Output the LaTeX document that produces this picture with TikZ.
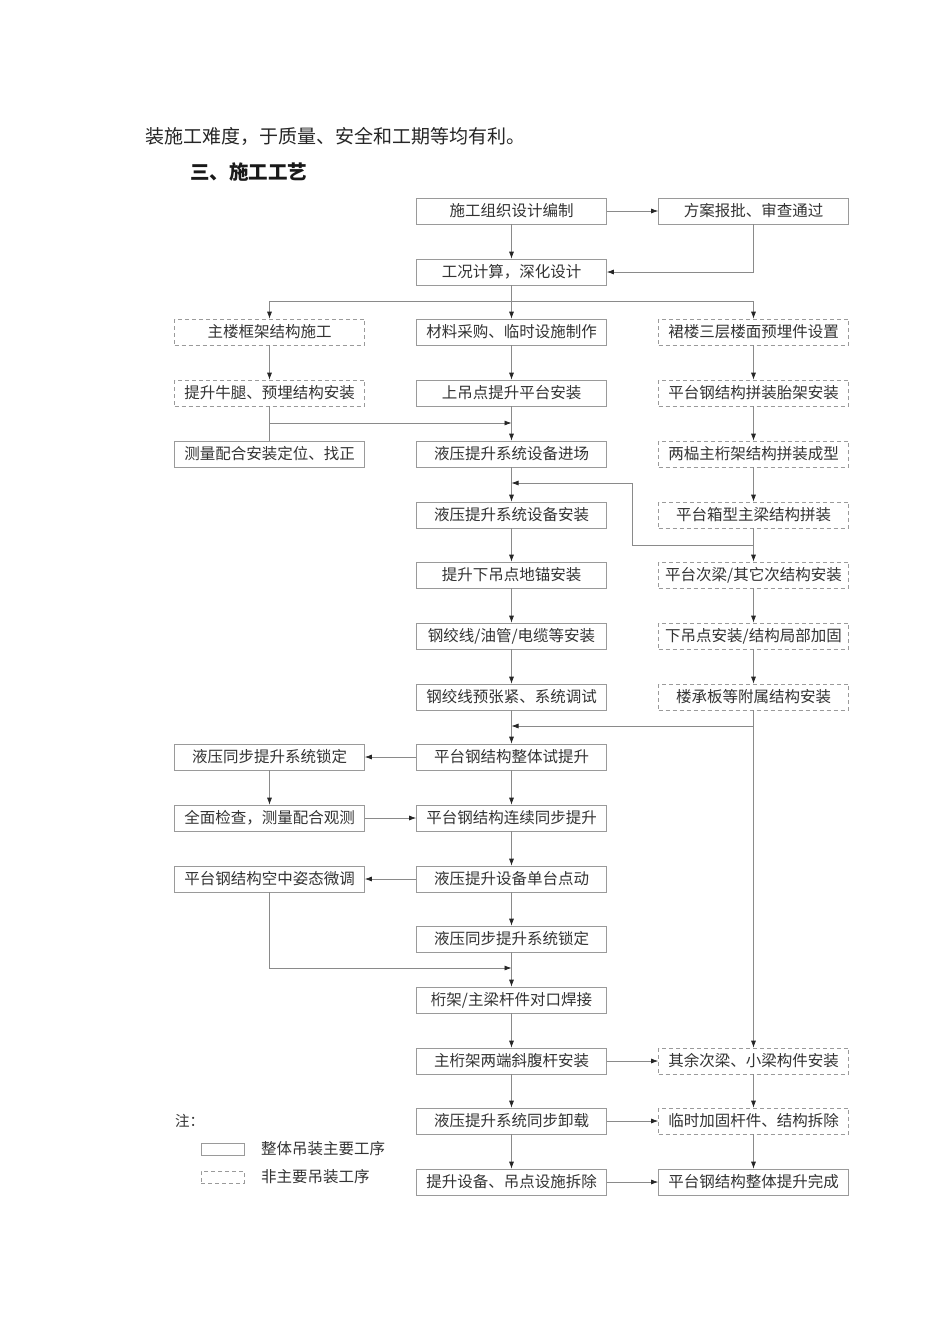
\documentclass[tikz,border=0pt]{standalone}
\usepackage{fontspec}
\newfontfamily\cjk{Noto Sans CJK SC}
\usetikzlibrary{arrows.meta}
\definecolor{boxc}{HTML}{9A9A9A}
\definecolor{linec}{HTML}{8A8A8A}
\definecolor{txtc}{HTML}{333333}
\tikzset{
  base/.style={minimum width=190pt, minimum height=26pt, inner sep=0pt, font=\cjk\fontsize{15.5}{17}\selectfont, text=txtc, line width=0.7pt, draw=boxc},
  mainbox/.style={base},
  subbox/.style={base, dash pattern=on 4pt off 3pt},
  conn/.style={draw=linec, line width=0.7pt},
  arr/.style={conn, -{Latex[length=7pt,width=5pt,color=black!85]}},
}
\begin{document}
\begin{tikzpicture}[x=1pt,y=-1pt]
\useasboundingbox (0,0) rectangle (950,1344);
\fill[white] (0,0) rectangle (950,1344);
% header texts
\node[anchor=west, font=\cjk\fontsize{19}{21}\selectfont, text=black!85, inner sep=0pt] (hd1) at (145,136) {装施工难度，于质量、安全和工期等均有利。};
\node[anchor=west, font=\cjk\bfseries\fontsize{19.5}{21}\selectfont, text=black!90, inner sep=0pt] (hd2) at (190,172) {三、施工工艺};
% columns
\def\xl{269.5}\def\xc{511.5}\def\xr{753.5}
% rows
\node[mainbox] (c1) at (\xc,211) {施工组织设计编制};
\node[mainbox] (r1) at (\xr,211) {方案报批、审查通过};
\node[mainbox] (c2) at (\xc,272) {工况计算，深化设计};
\node[subbox] (l3) at (\xl,332) {主楼框架结构施工};
\node[mainbox] (c3) at (\xc,332) {材料采购、临时设施制作};
\node[subbox] (r3) at (\xr,332) {裙楼三层楼面预埋件设置};
\node[subbox] (l4) at (\xl,393) {提升牛腿、预埋结构安装};
\node[mainbox] (c4) at (\xc,393) {上吊点提升平台安装};
\node[subbox] (r4) at (\xr,393) {平台钢结构拼装胎架安装};
\node[mainbox] (l5) at (\xl,454) {测量配合安装定位、找正};
\node[mainbox] (c5) at (\xc,454) {液压提升系统设备进场};
\node[subbox] (r5) at (\xr,454) {两榀主桁架结构拼装成型};
\node[mainbox] (c6) at (\xc,515) {液压提升系统设备安装};
\node[subbox] (r6) at (\xr,515) {平台箱型主梁结构拼装};
\node[mainbox] (c7) at (\xc,575) {提升下吊点地锚安装};
\node[subbox] (r7) at (\xr,575) {平台次梁/其它次结构安装};
\node[mainbox] (c8) at (\xc,636) {钢绞线/油管/电缆等安装};
\node[subbox] (r8) at (\xr,636) {下吊点安装/结构局部加固};
\node[mainbox] (c9) at (\xc,697) {钢绞线预张紧、系统调试};
\node[subbox] (r9) at (\xr,697) {楼承板等附属结构安装};
\node[mainbox] (l10) at (\xl,757) {液压同步提升系统锁定};
\node[mainbox] (c10) at (\xc,757) {平台钢结构整体试提升};
\node[mainbox] (l11) at (\xl,818) {全面检查，测量配合观测};
\node[mainbox] (c11) at (\xc,818) {平台钢结构连续同步提升};
\node[mainbox] (l12) at (\xl,879) {平台钢结构空中姿态微调};
\node[mainbox] (c12) at (\xc,879) {液压提升设备单台点动};
\node[mainbox] (c13) at (\xc,939) {液压同步提升系统锁定};
\node[mainbox] (c14) at (\xc,1000) {桁架/主梁杆件对口焊接};
\node[mainbox] (c15) at (\xc,1061) {主桁架两端斜腹杆安装};
\node[subbox] (r15) at (\xr,1061) {其余次梁、小梁构件安装};
\node[mainbox] (c16) at (\xc,1121) {液压提升系统同步卸载};
\node[subbox] (r16) at (\xr,1121) {临时加固杆件、结构拆除};
\node[mainbox] (c17) at (\xc,1182) {提升设备、吊点设施拆除};
\node[mainbox] (r17) at (\xr,1182) {平台钢结构整体提升完成};
% legend
\node[anchor=west, font=\cjk\fontsize{14.5}{16}\selectfont, text=txtc, inner sep=0pt] (note) at (175,1121) {注：};
\node[draw=boxc, line width=0.7pt, minimum width=43pt, minimum height=12pt, inner sep=0pt] (lg1) at (222.5,1149) {};
\node[draw=boxc, line width=0.7pt, dash pattern=on 4pt off 3pt, minimum width=43pt, minimum height=12pt, inner sep=0pt] (lg2) at (222.5,1177) {};
\node[anchor=west, font=\cjk\fontsize{15.5}{17}\selectfont, text=txtc, inner sep=0pt] (lt1) at (261,1149) {整体吊装主要工序};
\node[anchor=west, font=\cjk\fontsize{15.5}{17}\selectfont, text=txtc, inner sep=0pt] (lt2) at (261,1177) {非主要吊装工序};
% helper coordinates
\coordinate (s2) at (\xc,301);
\coordinate (s2l) at (\xl,301);
\coordinate (s2r) at (\xr,301);
\coordinate (m4) at (\xl,423);
\coordinate (m4c) at (\xc,423);
\coordinate (k6) at (\xr,545);
\coordinate (k6a) at (632,545);
\coordinate (k6b) at (632,483);
\coordinate (k6c) at (\xc,483);
\coordinate (j9) at (\xr,726);
\coordinate (j9c) at (\xc,726);
\coordinate (q12) at (\xl,968);
\coordinate (q12c) at (\xc,968);
% connectors
\draw[arr] (c1) -- (c2);
\draw[arr] (c1) -- (r1);
\draw[arr] (r1.south) |- (c2.east);
\draw[conn] (c2) -- (s2);
\draw[conn] (s2l) -- (s2r);
\draw[arr] (s2l) -- (l3);
\draw[arr] (s2) -- (c3);
\draw[arr] (s2r) -- (r3);
\draw[arr] (l3) -- (l4);
\draw[arr] (c3) -- (c4);
\draw[arr] (r3) -- (r4);
\draw[conn] (l4) -- (l5);
\draw[arr] (m4) -- (m4c);
\draw[arr] (c4) -- (c5);
\draw[arr] (r4) -- (r5);
\draw[arr] (c5) -- (c6);
\draw[arr] (r5) -- (r6);
\draw[arr] (k6) -- (k6a) -- (k6b) -- (k6c);
\draw[arr] (r6) -- (r7);
\draw[arr] (c6) -- (c7);
\draw[arr] (r7) -- (r8);
\draw[arr] (c7) -- (c8);
\draw[arr] (r8) -- (r9);
\draw[arr] (c8) -- (c9);
\draw[arr] (r9) -- (r15);
\draw[arr] (j9) -- (j9c);
\draw[arr] (c9) -- (c10);
\draw[arr] (c10) -- (l10);
\draw[arr] (l10) -- (l11);
\draw[arr] (l11) -- (c11);
\draw[arr] (c10) -- (c11);
\draw[arr] (c11) -- (c12);
\draw[arr] (c12) -- (l12);
\draw[arr] (c12) -- (c13);
\draw[arr] (l12.south) -- (q12) -- (q12c);
\draw[arr] (c13) -- (c14);
\draw[arr] (c14) -- (c15);
\draw[arr] (c15) -- (r15);
\draw[arr] (r15) -- (r16);
\draw[arr] (c15) -- (c16);
\draw[arr] (c16) -- (r16);
\draw[arr] (r16) -- (r17);
\draw[arr] (c16) -- (c17);
\draw[arr] (c17) -- (r17);
\end{tikzpicture}
\end{document}
